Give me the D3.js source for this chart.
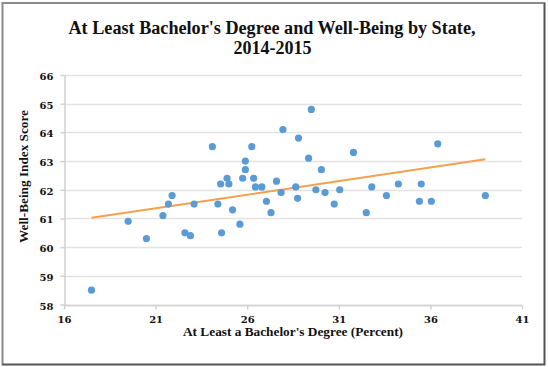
<!DOCTYPE html>
<html><head><meta charset="utf-8">
<script src="https://cdn.jsdelivr.net/npm/d3@7"></script>
<style>body{margin:0;background:#fff;}svg{display:block;}</style>
</head><body>
<script>
const bachelors = [17.5,19.5,20.5,21.4,21.7,21.9,22.6,22.9,23.1,24.1,24.4,24.55,24.6,24.9,25.0,
 25.2,25.6,25.75,25.9,25.9,26.25,26.35,26.45,26.8,27.05,27.3,27.6,27.85,27.95,28.65,28.75,28.8,29.35,29.5,29.75,30.05,30.25,30.75,31.05,31.8,32.5,32.8,
 33.6,34.25,35.4,35.5,36.05,36.4,39.0];
const wellbeing = [58.5,60.9,60.3,61.1,61.5,61.8,60.5,60.4,61.5,63.5,61.5,62.2,60.5,62.4,62.2,
 61.3,60.8,62.4,62.7,63.0,63.5,62.4,62.1,62.1,61.6,61.2,62.3,61.9,64.1,62.1,61.7,63.8,63.1,64.8,62.0,62.7,61.9,61.5,62.0,63.3,61.2,62.1,
 61.8,62.2,61.6,62.2,61.6,63.6,61.8];
const trendX = [17.5, 39.0];
const trendY = [61.02, 63.06];
const xTicks = [16,21,26,31,36,41];
const yTicks = [58,59,60,61,62,63,64,65,66];
const titleLines = ["At Least Bachelor's Degree and Well-Being by State,", "2014-2015"];
const xTitle = "At Least a Bachelor's Degree (Percent)";
const yTitle = "Well-Being Index Score";

const W=548,H=367;
const svg=d3.select("body").append("svg").attr("width",W).attr("height",H);
const font="'Liberation Serif', serif";
const tickFont="'DejaVu Serif', serif";
svg.append("rect").attr("x",2.5).attr("y",3).attr("width",542).attr("height",361.5)
  .attr("fill","#fff").attr("stroke","#8a8a8a").attr("stroke-width",2);
svg.append("line").attr("x1",544.5).attr("x2",544.5).attr("y1",3).attr("y2",365).attr("stroke","#555").attr("stroke-width",1.5);
svg.append("line").attr("x1",2).attr("x2",545).attr("y1",364.5).attr("y2",364.5).attr("stroke","#555").attr("stroke-width",1.5);

const x=d3.scaleLinear().domain([16,41]).range([64,522]);
const y=d3.scaleLinear().domain([58,66]).range([304.5,75]);

svg.append("g").selectAll("line").data(yTicks).join("line")
  .attr("x1",64).attr("x2",522).attr("y1",d=>Math.round(y(d))+0.5).attr("y2",d=>Math.round(y(d))+0.5)
  .attr("stroke","#e3e3e3").attr("stroke-width",1.5);

const xa=svg.append("g").attr("transform","translate(0,"+(Math.round(y(58))+0.5)+")")
  .call(d3.axisBottom(x).tickValues(xTicks).tickSize(4).tickSizeOuter(0).tickPadding(6.5));
const ya=svg.append("g").attr("transform","translate(64.5,0)")
  .call(d3.axisLeft(y).tickValues(yTicks).tickSize(4).tickSizeOuter(0).tickPadding(7));
[xa,ya].forEach(a=>{
  a.selectAll("path,line").attr("stroke","#d0d0d0").attr("stroke-width",1.5);
  a.selectAll("text").attr("font-family",tickFont).attr("font-weight","bold").attr("font-size",10).attr("fill","#111");
});
ya.selectAll("text").attr("dy","0.45em");
xa.selectAll("path").attr("d","M64,0H522");

svg.append("line").attr("x1",x(trendX[0])).attr("y1",y(trendY[0])).attr("x2",x(trendX[1])).attr("y2",y(trendY[1]))
  .attr("stroke","#f5a04f").attr("stroke-width",2);

svg.append("g").selectAll("circle").data(bachelors.map((b,i)=>[b,wellbeing[i]])).join("circle")
  .attr("cx",d=>x(d[0])).attr("cy",d=>y(d[1])).attr("r",3.6).attr("fill","#5b9bd5");

svg.append("text").attr("x",272).attr("y",33.5).attr("text-anchor","middle").attr("font-family",font)
  .attr("font-weight","bold").attr("font-size",18).attr("fill","#111")
  .attr("textLength",407).attr("lengthAdjust","spacingAndGlyphs").text(titleLines[0]);
svg.append("text").attr("x",272.5).attr("y",54).attr("text-anchor","middle").attr("font-family",font)
  .attr("font-weight","bold").attr("font-size",18).attr("fill","#111").text(titleLines[1]);
svg.append("text").attr("x",293).attr("y",336).attr("text-anchor","middle").attr("font-family",font)
  .attr("font-weight","bold").attr("font-size",13).attr("fill","#111")
  .attr("textLength",220).attr("lengthAdjust","spacingAndGlyphs").text(xTitle);
svg.append("text").attr("transform","translate(28,176.5) rotate(-90)").attr("text-anchor","middle").attr("font-family",font)
  .attr("font-weight","bold").attr("font-size",13).attr("fill","#111")
  .attr("textLength",133).attr("lengthAdjust","spacingAndGlyphs").text(yTitle);
</script>
</body></html>
